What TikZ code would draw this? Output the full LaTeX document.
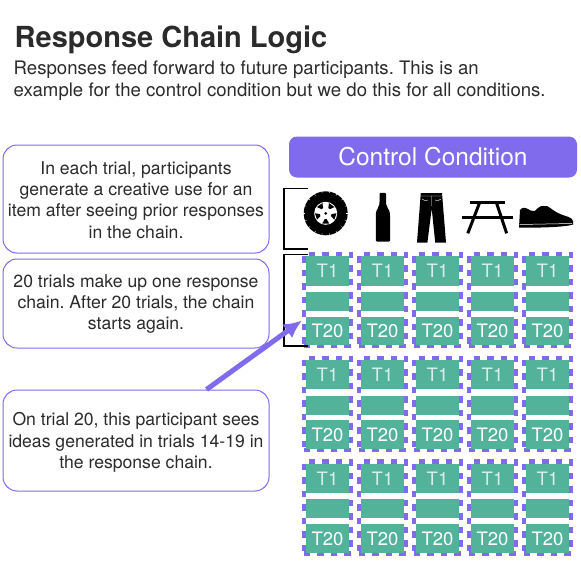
\documentclass[tikz,border=0pt]{standalone}
\usepackage{fontspec}
\setmainfont{TeX Gyre Heros}
\usetikzlibrary{arrows.meta}
\definecolor{purp}{HTML}{7F6BEC}
\definecolor{teal}{HTML}{52B29A}
\definecolor{ink}{HTML}{2B2B2B}
\tikzset{
 note/.style={draw=purp,line width=1pt,rounded corners=14pt,fill=white,minimum width=266pt,inner sep=0pt},
 notetext/.style={align=center,inner sep=0,font=\fontsize{17.6}{21.3}\selectfont\frenchspacing,text=ink},
 cellbox/.style={fill=teal,minimum width=43.5pt,inner sep=0pt,text=white,font=\fontsize{18.5}{20}\selectfont},
 frame/.style={draw=purp,line width=4.4pt,dash pattern=on 6.5pt off 7pt,minimum width=47.4pt,minimum height=92pt,inner sep=0pt},
 brace/.style={draw=black,line width=1.6pt},
 icon/.style={fill=black,draw=none}
}
\begin{document}
\begin{tikzpicture}[x=1pt,y=-1pt]
\useasboundingbox (0,0) rectangle (581,581);
\node[anchor=base west,inner sep=0,font=\fontsize{29}{32}\selectfont\bfseries,text=ink] (title) at (14.5,47.5) {Response Chain Logic};
\node[anchor=base west,inner sep=0,font=\fontsize{18.6}{22}\selectfont\frenchspacing,text=ink] (sub1) at (13.5,74) {Responses feed forward to future participants. This is an};
\node[anchor=base west,inner sep=0,font=\fontsize{18.6}{22}\selectfont,text=ink] (sub2) at (13.5,96) {example for the control condition but we do this for all conditions.};
\node[fill=purp,rounded corners=8pt,minimum width=288pt,minimum height=41pt,inner sep=0,text=white,font=\fontsize{24.5}{26}\selectfont] (head) at (433,157) {Control Condition};
\node[note,minimum height=108pt] (box1) at (136,199) {};
\node[note,minimum height=89pt] (box2) at (136,303.5) {};
\node[note,minimum height=101pt] (box3) at (136,440.5) {};
\node[notetext] (t1) at (136,200) {In each trial, participants\\generate a creative use for an\\item after seeing prior responses\\in the chain.};
\node[notetext] (t2) at (136,304) {20 trials make up one response\\chain. After 20 trials, the chain\\starts again.};
\node[notetext] (t3) at (136,442.5) {On trial 20, this participant sees\\ideas generated in trials 14-19 in\\the response chain.};
% grid
\foreach \r/\yy in {1/0,2/103.7,3/207.4}{
 \foreach \c/\xx in {1/0,2/55,3/110,4/165,5/220}{
  \node[frame] (f\r\c) at ({327.5+\xx},{300+\yy}) {};
  \node[cellbox,minimum height=29.5pt,text=white!78!teal] (a\r\c) at ({327.5+\xx},{271+\yy}) {\raisebox{-1pt}{T1}};
  \node[cellbox,minimum height=19pt] (m\r\c) at ({327.5+\xx},{301.5+\yy}) {};
  \node[cellbox,minimum height=28.5pt] (z\r\c) at ({327.5+\xx},{331+\yy}) {\raisebox{-1pt}{T20}};
 }
}
% brackets
\coordinate (b1t) at (308,188.5);\coordinate (b1b) at (308,249);
\coordinate (b2t) at (308,254.5);\coordinate (b2b) at (308,346);
\draw[brace] (b1t) -- (284,188.5) -- (284,249) -- (b1b);
\draw[brace] (b2t) -- (284,254.5) -- (284,346) -- (b2b);
% arrow
\coordinate (as) at (206.5,389.5);\coordinate (ae) at (302,320.5);
\draw[purp,line width=5pt,-{Latex[length=18pt,width=17pt]}] (as) -- (ae);
% tire
\begin{scope}[shift={(325.7,213.3)}]
 \fill[black] (0,0) circle (22);
 \foreach \a in {10,30,...,350}{\draw[white,line width=.4pt,rotate=\a] (0,-22.5) -- (0,-20.5);}
 \fill[white] (0,0) circle (11.5);
 \foreach \a in {0,72,...,288}{\fill[black,rotate=\a+36] (-3.4,-10.2) -- (3.4,-10.2) -- (1,-5.8) -- (-1,-5.8) -- cycle;}
 \fill[black] (0,0) circle (1.5);
\end{scope}
% bottle
\fill[icon,rounded corners=1pt] (379.5,192.8) -- (386,192.8) -- (386,203) .. controls (386.2,208) and (389.8,209) .. (390,215) -- (390,241.5) -- (375.8,241.5) -- (375.8,215) .. controls (376,209) and (379.3,208) .. (379.5,203) -- cycle;
% pants
\fill[icon] (420.8,193) -- (442,193) -- (446,242.5) -- (435.2,242.5) -- (431.7,208.5) -- (427.4,242.5) -- (417,242.5) -- cycle;
\draw[white,line width=.4pt] (420.7,196) -- (442,196) (431.5,196) -- (431.5,206) (422,199) .. controls (424,201) and (426,201) .. (428,200) (435,200) .. controls (437,201) and (439,201) .. (441,199);
% table
\fill[icon] (470,201) rectangle (505,204);
\fill[icon] (462,216.1) rectangle (512.7,219.3);
\draw[black,line width=3pt] (479.5,203) -- (467.8,233.3) (496.5,203) -- (506.6,233.3);
% shoe
\fill[icon] (520,210) .. controls (522,207) and (525,207.5) .. (527,208.5) .. controls (530,210) and (532,212) .. (535,211) .. controls (537,209) and (538,207) .. (541,206.2) -- (547,206) .. controls (551,208) and (554,211.5) .. (560,214) .. controls (566,216.5) and (572,217) .. (573,221) -- (573,224.5) .. controls (566,227) and (540,228) .. (519,227.5) -- cycle;
\draw[white,line width=.5pt] (519.5,224.5) -- (572,223.5);
\end{tikzpicture}
\end{document}
